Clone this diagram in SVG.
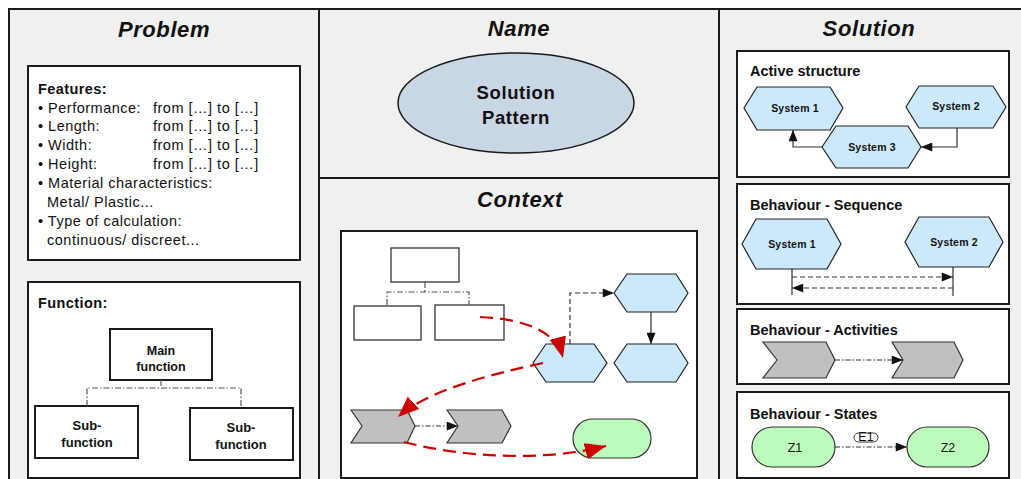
<svg xmlns="http://www.w3.org/2000/svg" width="1021" height="479" viewBox="0 0 1021 479">
  <style>
    .cell { fill: #f0f0f0; }
    .grid { stroke: #1a1a1a; stroke-width: 2; fill: none; }
    .box { fill: #ffffff; stroke: #1a1a1a; stroke-width: 2; }
    .thinbox { fill: #ffffff; stroke: #333333; stroke-width: 1.3; }
    .title { font-family: "Liberation Sans", Arial, sans-serif; font-weight: bold; font-style: italic; font-size: 22px; letter-spacing: 0.6px; fill: #111; text-anchor: middle; }
    .head { font-family: "Liberation Sans", Arial, sans-serif; font-weight: bold; font-size: 14.5px; fill: #111; }
    .body { font-family: "Liberation Sans", Arial, sans-serif; font-size: 14.5px; letter-spacing: 0.5px; fill: #111; }
    .lbl { font-family: "Liberation Sans", Arial, sans-serif; font-weight: bold; fill: #111; text-anchor: middle; }
    .sys { font-family: "Liberation Sans", Arial, sans-serif; font-weight: bold; font-size: 10.5px; letter-spacing: 0.2px; fill: #111; text-anchor: middle; }
    .state { font-family: "Liberation Sans", Arial, sans-serif; font-size: 12.5px; fill: #111; text-anchor: middle; }
    .hex { fill: #cce9fb; stroke: #222; stroke-width: 1.2; }
    .chev { fill: #c0c0c0; stroke: #333; stroke-width: 1.2; }
    .green { fill: #bdfbbd; stroke: #333; stroke-width: 1.2; }
    .tree { stroke: #555; stroke-width: 1.2; fill: none; stroke-dasharray: 6 2 1.5 2; }
    .line { stroke: #333; stroke-width: 1.2; fill: none; }
    .dash { stroke: #333; stroke-width: 1.2; fill: none; stroke-dasharray: 5 3; }
    .dashdot { stroke: #333; stroke-width: 1.2; fill: none; stroke-dasharray: 5 2 1.5 2; }
    .red { stroke: #cc0000; stroke-width: 2.2; fill: none; stroke-dasharray: 13 7; }
  </style>
  <defs>
    <marker id="arrow" viewBox="0 0 10 8" refX="10" refY="4" markerWidth="12" markerHeight="9" markerUnits="userSpaceOnUse" orient="auto">
      <path d="M0,0 L10,4 L0,8 Z" fill="#111"/>
    </marker>
    <marker id="arrowRed" viewBox="0 0 10 8" refX="10" refY="4" markerWidth="21" markerHeight="17" markerUnits="userSpaceOnUse" orient="auto">
      <path d="M0,0 L10,4 L0,8 Z" fill="#cc0000"/>
    </marker>
  </defs>

  <!-- page background and table frame -->
  <rect x="0" y="0" width="1021" height="479" fill="#ffffff"/>
  <rect class="cell" x="9" y="9" width="1012" height="470"/>
  <g id="frame" class="grid">
    <path d="M9,479 V9 H1021"/>
    <path d="M319,9 V479"/>
    <path d="M719,9 V479"/>
    <path d="M319,178 H719"/>
  </g>

  <!-- column and cell titles -->
  <text class="title" x="164" y="37">Problem</text>
  <text class="title" x="519" y="36">Name</text>
  <text class="title" x="520" y="207">Context</text>
  <text class="title" x="869" y="36">Solution</text>

  <!-- Problem: feature list -->
  <g id="features">
    <rect class="box" x="28" y="66" width="272" height="194"/>
    <text class="head" x="38" y="94" style="letter-spacing:0.4px">Features:</text>
    <text class="body" x="38" y="113">• Performance:</text>
    <text class="body" x="153" y="113">from […] to […]</text>
    <text class="body" x="38" y="131">• Length:</text>
    <text class="body" x="153" y="131">from […] to […]</text>
    <text class="body" x="38" y="150">• Width:</text>
    <text class="body" x="153" y="150">from […] to […]</text>
    <text class="body" x="38" y="169">• Height:</text>
    <text class="body" x="153" y="169">from […] to […]</text>
    <text class="body" x="38" y="188">• Material characteristics:</text>
    <text class="body" x="47" y="207">Metal/ Plastic...</text>
    <text class="body" x="38" y="226">• Type of calculation:</text>
    <text class="body" x="47" y="245">continuous/ discreet...</text>
  </g>

  <!-- Problem: function tree -->
  <g id="function">
    <rect class="box" x="28" y="282" width="272" height="196"/>
    <text class="head" x="38" y="308" style="letter-spacing:0.4px">Function:</text>
  </g>
  <g id="main-function">
    <rect class="box" x="110" y="329" width="102" height="51"/>
    <text class="lbl" x="161" y="355" font-size="12.5">Main</text>
    <text class="lbl" x="161" y="371" font-size="12.5">function</text>
  </g>
  <g id="sub-function-1">
    <rect class="box" x="35" y="406" width="103" height="52"/>
    <text class="lbl" x="87" y="430" font-size="13">Sub-</text>
    <text class="lbl" x="87" y="447" font-size="13">function</text>
  </g>
  <g id="sub-function-2">
    <rect class="box" x="190" y="408" width="103" height="52"/>
    <text class="lbl" x="241" y="432" font-size="13">Sub-</text>
    <text class="lbl" x="241" y="449" font-size="13">function</text>
  </g>

  <!-- Name -->
  <g id="solution-pattern">
    <ellipse cx="516" cy="103" rx="118" ry="50" fill="#c8d6e6" stroke="#1a1a1a" stroke-width="1.5"/>
    <text class="lbl" x="516" y="99" font-size="18.5" style="letter-spacing:0.6px">Solution</text>
    <text class="lbl" x="516" y="124" font-size="18.5" style="letter-spacing:0.6px">Pattern</text>
  </g>

  <!-- Context -->
  <g id="context">
    <rect class="box" x="341" y="231" width="356" height="247"/>
  </g>
  <g id="ctx-top-box"><rect class="thinbox" x="391" y="248" width="68" height="34"/></g>
  <g id="ctx-left-box"><rect class="thinbox" x="354" y="306" width="67" height="34"/></g>
  <g id="ctx-right-box"><rect class="thinbox" x="435" y="305" width="69" height="35"/></g>
  <g id="ctx-hex-top"><polygon class="hex" points="614,293 627,274 676,274 688,293 676,312 627,312"/></g>
  <g id="ctx-hex-mid"><polygon class="hex" points="533,363 546,344 594,344 607,363 594,382 546,382"/></g>
  <g id="ctx-hex-right"><polygon class="hex" points="614,363 627,344 676,344 688,363 676,382 627,382"/></g>
  <g id="ctx-chevron-1"><polygon class="chev" points="351,410 407,410 415,426 407,443 351,443 362,426"/></g>
  <g id="ctx-chevron-2"><polygon class="chev" points="447,410 502,410 511,426 502,443 447,443 458,426"/></g>
  <g id="ctx-state"><rect class="green" x="573" y="419" width="78" height="39" rx="19.5"/></g>

  <!-- Active structure -->
  <g id="active-structure">
    <rect class="box" x="737" y="51" width="272" height="126"/>
    <text class="head" x="750" y="76">Active structure</text>
  </g>
  <g id="as-system-1">
    <polygon class="hex" points="744,108 757,87 830,87 843,108 830,130 757,130"/>
    <text class="sys" x="795" y="112">System 1</text>
  </g>
  <g id="as-system-2">
    <polygon class="hex" points="906,107 919,86 993,86 1006,107 993,128 919,128"/>
    <text class="sys" x="956" y="110">System 2</text>
  </g>
  <g id="as-system-3">
    <polygon class="hex" points="822,147 836,126 908,126 921,147 908,168 836,168"/>
    <text class="sys" x="872" y="151">System 3</text>
  </g>

  <!-- Behaviour - Sequence -->
  <g id="sequence">
    <rect class="box" x="737" y="184" width="272" height="120"/>
    <text class="head" x="750" y="210">Behaviour - Sequence</text>
  </g>
  <g id="seq-system-1">
    <polygon class="hex" points="742,244 756,219 827,219 841,244 827,269 756,269"/>
    <text class="sys" x="792" y="248">System 1</text>
  </g>
  <g id="seq-system-2">
    <polygon class="hex" points="905,242 919,217 989,217 1003,242 989,267 919,267"/>
    <text class="sys" x="954" y="246">System 2</text>
  </g>

  <!-- Behaviour - Activities -->
  <g id="activities">
    <rect class="box" x="737" y="309" width="272" height="75"/>
    <text class="head" x="750" y="335">Behaviour - Activities</text>
  </g>
  <g id="act-1"><polygon class="chev" points="763,342 826,342 835,360 826,378 763,378 777,360"/></g>
  <g id="act-2"><polygon class="chev" points="892,342 954,342 963,360 954,378 892,378 903,360"/></g>

  <!-- Behaviour - States -->
  <g id="states">
    <rect class="box" x="737" y="392" width="272" height="86"/>
    <text class="head" x="750" y="419">Behaviour - States</text>
  </g>
  <g id="state-z1">
    <rect class="green" x="752" y="427" width="83" height="40" rx="20"/>
    <text class="state" x="795" y="452">Z1</text>
  </g>
  <g id="state-z2">
    <rect class="green" x="907" y="427" width="82" height="40" rx="20"/>
    <text class="state" x="948" y="452">Z2</text>
  </g>

  <!-- connectors -->
  <g id="connectors">
    <!-- function tree -->
    <path class="tree" d="M161,380 V388 M87,406 V388 H241 V408"/>
    <!-- context tree -->
    <path class="tree" d="M425,282 V292 M387,305 V292 H469 V305"/>
    <path class="dash" stroke="#555" d="M570,344 V293 H614" marker-end="url(#arrow)"/>
    <path class="line" d="M651,312 V344" marker-end="url(#arrow)"/>
    <path class="dashdot" d="M415,426 H458" marker-end="url(#arrow)"/>
    <!-- context red flow -->
    <path class="red" d="M480,317 C525,319 556,331 563,358" marker-end="url(#arrowRed)"/>
    <path class="red" d="M543,363 C482,376 424,393 398,417" marker-end="url(#arrowRed)"/>
    <path class="red" d="M404,442 C460,457 545,462 606,446" marker-end="url(#arrowRed)"/>
    <!-- active structure -->
    <path class="line" d="M957,128 V147 H921" marker-end="url(#arrow)"/>
    <path class="line" d="M822,147 H793 V130" marker-end="url(#arrow)"/>
    <!-- sequence -->
    <path class="line" d="M792,269 V295 M953,267 V296"/>
    <path class="dash" d="M792,277 H953" marker-end="url(#arrow)"/>
    <path class="dash" d="M953,288 H792" marker-end="url(#arrow)"/>
    <!-- activities -->
    <path class="dashdot" d="M835,360 H903" marker-end="url(#arrow)"/>
    <!-- states -->
    <path class="dashdot" d="M835,447 H907" marker-end="url(#arrow)"/>
    <g id="event-e1">
      <rect x="854" y="433" width="24" height="9" rx="4.5" fill="#ffffff" stroke="#333" stroke-width="1"/>
      <text class="state" x="866" y="441" font-size="8">E1</text>
    </g>
  </g>
</svg>
